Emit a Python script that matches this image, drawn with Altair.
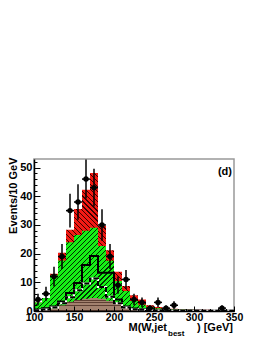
import altair as alt
import pandas as pd
import numpy as np

# ---------------- data ----------------
bin_lo = list(range(100, 350, 10))          # 25 bins of 10 GeV
bin_hi_last = 350
data_counts = [4, 6, 12, 19, 35, 38, 46, 43, 30, 19, 9, 11, 4, 3, 1, 3, 1, 2, 0, 0, 0, 0, 0, 1, 0]
total_stack = [3.0, 4.5, 13.0, 20.3, 28.3, 35.6, 42.3, 48.1, 29.6, 21.2, 13.7, 8.7, 5.5, 4.0, 2.0,
               1.4, 1.0, 0.8, 0.6, 0.5, 0.4, 0.4, 0.3, 0.3, 0.3]
green_stack = [3.0, 4.5, 12.5, 17.6, 24.0, 26.5, 28.0, 29.0, 22.7, 17.5, 10.5, 7.0, 3.5, 2.2, 1.4,
               1.0, 0.7, 0.6, 0.5, 0.4, 0.3, 0.3, 0.3, 0.3, 0.3]
brown_stack = [0.4, 0.6, 1.0, 2.0, 3.2, 3.8, 4.3, 4.5, 4.3, 3.6, 2.6, 1.6, 0.9, 0.6, 0.5,
               0.4, 0.35, 0.3, 0.3, 0.3, 0.3, 0.3, 0.25, 0.25, 0.2]
solid_hist = [0.5, 1.0, 1.6, 3.3, 6.3, 9.8, 16.0, 19.2, 13.3, 13.3, 4.0, 1.6, 0.9, 0.6, 0.4,
              0.3, 0.3, 0.2, 0.2, 0.2, 0.2, 0.1, 0.1, 0.1, 0.1]
dashed_hist = [0.3, 0.5, 1.2, 2.7, 4.8, 7.2, 9.6, 11.3, 8.4, 5.0, 2.7, 1.2, 0.6, 0.4, 0.3,
               0.2, 0.2, 0.1, 0.1, 0.1, 0.1, 0.1, 0.1, 0.1, 0.1]

x_ticks = [100, 150, 200, 250, 300, 350]
x_minor = list(range(100, 351, 10))
y_ticks = [0, 10, 20, 30, 40, 50]
y_minor = list(range(0, 53, 2))
y_title = "Events/10 GeV"
x_title_main = "M(W,jet"
x_title_sub = "best"
x_title_unit = ") [GeV]"
panel_label = "(d)"

# ---------------- layout / style ----------------
W, H = 200, 152
YMAX = 53
FONT = "Liberation Sans"

def step_df(vals):
    return pd.DataFrame({"x": bin_lo + [bin_hi_last], "y": vals + [vals[-1]]})

def hatch(base, line, n, frac, x1, y1, x2, y2):
    stops = []
    for k in range(n):
        a = round(k / n, 6)
        b = round((k + 1 - frac) / n, 6)
        c = round((k + 1) / n, 6)
        stops += [alt.GradientStop(color=base, offset=a),
                  alt.GradientStop(color=base, offset=b),
                  alt.GradientStop(color=line, offset=b),
                  alt.GradientStop(color=line, offset=c)]
    return alt.LinearGradient(gradient="linear", stops=stops, x1=x1, y1=y1, x2=x2, y2=y2)

def fwd_slash(box_h, spacing=5.0):
    r = box_h / W
    s = (1 + r) / (1 + r * r)
    n = int(round((W / spacing) * s * (1 + r * r)))
    return dict(x1=0, y1=0, x2=s, y2=s * r, n=n)

def back_slash(box_h, spacing=5.0):
    r = box_h / W
    s = (1 + r) / (1 + r * r)
    n = int(round((W / spacing) * s * (1 + r * r)))
    return dict(x1=0, y1=1, x2=s, y2=1 - s * r, n=n)

xs = alt.Scale(domain=[100, 350], nice=False, zero=False)
ys = alt.Scale(domain=[0, YMAX], nice=False)

main_x = alt.Axis(values=x_ticks, ticks=False, domain=True, domainColor="black", domainWidth=1.5,
                  labelFont=FONT, labelFontSize=10.5, labelFontWeight="bold", labelColor="black",
                  labelPadding=1, labelFlush=False, grid=False, title=None, zindex=1)
main_y = alt.Axis(values=y_ticks, ticks=False, domain=True, domainColor="black", domainWidth=1.5,
                  labelFont=FONT, labelFontSize=11, labelFontWeight="bold", labelColor="black",
                  labelPadding=2, labelFlush=False, grid=False, title=y_title,
                  titleFont=FONT, titleFontSize=11, titleFontWeight="bold", titleColor="black",
                  titleX=-21, titleY=-2, titleAngle=270, titleAlign="right", titleBaseline="middle",
                  zindex=1)
xt_major = alt.Axis(orient="top", offset=-H, values=x_ticks, tickSize=5, tickColor="black", tickWidth=1,
                    labels=False, domain=False, grid=False, title=None, zindex=1)
yt_major = alt.Axis(orient="right", offset=-W, values=y_ticks, tickSize=6, tickColor="black", tickWidth=1,
                    labels=False, domain=False, grid=False, title=None, zindex=1)
xt_minor = alt.Axis(orient="top", offset=-H, values=x_minor, tickSize=2.5, tickColor="black", tickWidth=1,
                    labels=False, domain=False, grid=False, title=None, zindex=1)
yt_minor = alt.Axis(orient="right", offset=-W, values=y_minor, tickSize=3, tickColor="black", tickWidth=1,
                    labels=False, domain=False, grid=False, title=None, zindex=1)

red_h = max(total_stack) / YMAX * H
grn_h = max(green_stack) / YMAX * H
rb = back_slash(red_h)
gf = fwd_slash(grn_h)
red_fill = hatch("#f21a14", "#3a0000", rb["n"], 0.22, rb["x1"], rb["y1"], rb["x2"], rb["y2"])
green_fill = hatch("#16f016", "#003000", gf["n"], 0.22, gf["x1"], gf["y1"], gf["x2"], gf["y2"])
brown_fill = hatch("#a3826f", "#5e4033", 5, 0.3, 0, 0, 0, 1)

red = alt.Chart(step_df(total_stack)).mark_area(interpolate="step-after", color=red_fill).encode(
    x=alt.X("x:Q", scale=xs, axis=main_x), y=alt.Y("y:Q", scale=ys, axis=main_y))
green = alt.Chart(step_df(green_stack)).mark_area(interpolate="step-after", color=green_fill).encode(
    x=alt.X("x:Q", scale=xs, axis=xt_major), y=alt.Y("y:Q", scale=ys, axis=yt_major))
brown = alt.Chart(step_df(brown_stack)).mark_area(interpolate="step-after", color=brown_fill).encode(
    x=alt.X("x:Q", scale=xs, axis=xt_minor), y=alt.Y("y:Q", scale=ys, axis=yt_minor))

solid = alt.Chart(step_df(solid_hist)).mark_line(interpolate="step-after", color="black", strokeWidth=2).encode(
    x=alt.X("x:Q", scale=xs, axis=None), y=alt.Y("y:Q", scale=ys, axis=None))
dashed_w = alt.Chart(step_df(dashed_hist)).mark_line(interpolate="step-after", color="white", strokeWidth=2).encode(
    x=alt.X("x:Q", scale=xs, axis=None), y=alt.Y("y:Q", scale=ys, axis=None))
dashed_b = alt.Chart(step_df(dashed_hist)).mark_line(interpolate="step-after", color="black", strokeWidth=2,
                                                     strokeDash=[5, 2]).encode(
    x=alt.X("x:Q", scale=xs, axis=None), y=alt.Y("y:Q", scale=ys, axis=None))

pts = pd.DataFrame({"lo": bin_lo, "n": data_counts})
pts["hi"] = pts["lo"] + 10
pts["c"] = pts["lo"] + 5
pts["err"] = np.sqrt(pts["n"])
pts["lower"] = pts["n"] - pts["err"]
pts["upper"] = pts["n"] + pts["err"]
pts = pts[pts["n"] > 0]

vbar = alt.Chart(pts).mark_rule(color="black", strokeWidth=1.5).encode(
    x=alt.X("c:Q", scale=xs, axis=None), y=alt.Y("lower:Q", scale=ys, axis=None), y2="upper:Q")
hbar = alt.Chart(pts).mark_rule(color="black", strokeWidth=1.5).encode(
    x=alt.X("lo:Q", scale=xs, axis=None), x2="hi:Q", y=alt.Y("n:Q", scale=ys, axis=None))
dots = alt.Chart(pts).mark_circle(color="black", opacity=1, size=30).encode(
    x=alt.X("c:Q", scale=xs, axis=None), y=alt.Y("n:Q", scale=ys, axis=None))

one = pd.DataFrame({"k": [0]})
lab = alt.Chart(one).mark_text(text=panel_label, font=FONT, fontSize=11, fontWeight="bold", align="right",
                               baseline="middle", color="black").encode(x=alt.value(198), y=alt.value(12.5))
xt1 = alt.Chart(one).mark_text(text=x_title_main, font=FONT, fontSize=11, fontWeight="bold", align="right",
                               baseline="alphabetic", color="black").encode(x=alt.value(133), y=alt.value(172))
xt2 = alt.Chart(one).mark_text(text=x_title_sub, font=FONT, fontSize=8, fontWeight="bold", align="left",
                               baseline="alphabetic", color="black").encode(x=alt.value(134), y=alt.value(176.5))
xt3 = alt.Chart(one).mark_text(text=x_title_unit, font=FONT, fontSize=11, fontWeight="bold", align="right",
                               baseline="alphabetic", color="black").encode(x=alt.value(199), y=alt.value(172))

chart = alt.layer(red, green, brown, solid, dashed_w, dashed_b, vbar, hbar, dots, lab, xt1, xt2, xt3).resolve_axis(
    x="independent", y="independent"
).properties(
    width=W, height=H,
    autosize=alt.AutoSizeParams(type="none"),
    padding={"left": 26, "top": 151, "right": 24, "bottom": 25},
    background="white",
).configure_view(stroke="#999999", strokeWidth=1.5)

chart.save("out.html", embed_options={"renderer": "svg", "actions": False})
